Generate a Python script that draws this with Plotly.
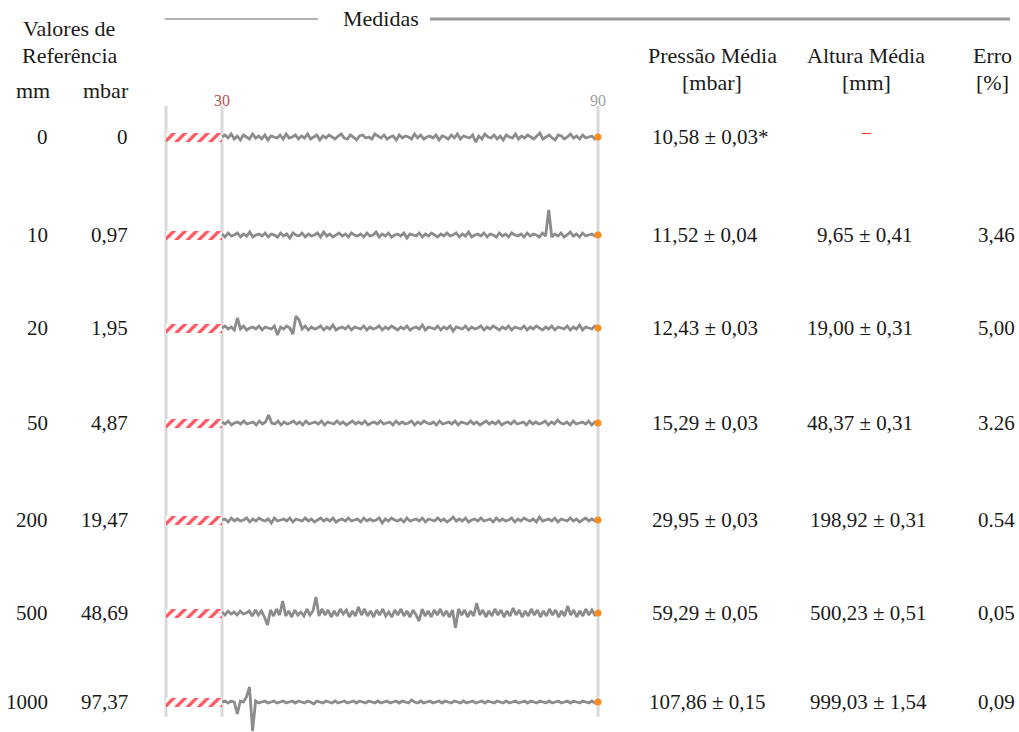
import numpy as np
import plotly.graph_objects as go

W, H = 1019, 732

# ---------------- data ----------------
ref_mm = ["0", "10", "20", "50", "200", "500", "1000"]
ref_mbar = ["0", "0,97", "1,95", "4,87", "19,47", "48,69", "97,37"]
pressao = ["10,58 ± 0,03*", "11,52 ± 0,04", "12,43 ± 0,03", "15,29 ± 0,03",
           "29,95 ± 0,03", "59,29 ± 0,05", "107,86 ± 0,15"]
altura = ["–", "9,65 ± 0,41", "19,00 ± 0,31", "48,37 ± 0,31",
          "198,92 ± 0,31", "500,23 ± 0,51", "999,03 ± 1,54"]
erro = ["", "3,46", "5,00", "3.26", "0.54", "0,05", "0,09"]

T_START, T_END = 30, 90  # measurement window (s)

# signal deviations around each mean (relative units)
sig_0 = [0,2,-1,3,-2,1,-3,2,0,-2,3,-1,1,-2,2,-3,1,0,-1,2,-2,3,-1,0,2,-2,1,-1,3,-2,0,2,-3,1,-1,2,0,-2,1,3,-1,-2,2,0,-3,1,2,-1,0,-2,3,1,-1,2,-2,0,1,-3,2,-1,1,0,-2,3,-1,2,-2,0,1,-1,2,-3,1,0,-2,2,-1,3,-2,1,0,-1,2,-5,1,-2,3,0,-1,2,-2,1,-3,2,0,-1,3,-2,1,-1,2,0,-2,1,4,-2,0,2,-1,-3,2,1,-2,0,3,-1,1,-2,2,-1,0,1,-2,0]
sig_10 = [1,-2,2,-1,0,2,-2,1,-1,3,-2,0,1,-1,2,-2,1,0,-2,2,-1,1,-3,2,0,-1,2,-2,1,-1,0,2,-2,3,-1,1,-2,0,2,-1,1,-2,2,0,-1,1,-2,2,-1,0,3,-2,1,-1,2,-2,0,1,-1,2,-3,1,0,-1,2,-2,1,-1,2,0,-2,1,-1,2,-1,0,2,-2,1,-1,3,-2,0,1,-1,2,-2,1,0,-2,2,-1,1,-2,2,0,-1,1,-2,2,-1,1,0,-2,2,-1,25,-2,1,-1,2,-2,0,3,-1,1,-2,2,-1,0,1,-1,0]
sig_20 = [0,2,-1,1,-2,10,-1,2,-2,0,1,-1,2,-2,1,0,-1,2,-7,1,-1,2,0,-6,12,8,-1,2,-2,1,-1,0,2,-2,1,-1,3,-2,0,1,-1,2,-2,1,0,-1,2,-2,1,-1,0,2,-2,1,-1,2,0,-2,1,-1,2,-2,0,1,-1,3,-2,1,0,-1,2,-2,1,-1,2,-3,1,0,-1,2,-2,1,-1,0,2,-2,1,-1,2,0,-2,1,-1,2,-2,1,0,-1,2,-2,1,-1,2,0,-2,1,-1,2,-2,1,0,-1,2,-2,1,-1,3,-2,1,0,-1,2,0]
sig_50 = [1,-1,2,-2,0,1,-1,2,-1,0,1,-2,2,-1,1,8,0,-1,2,-2,1,-1,0,2,-1,1,-2,2,-1,0,1,-1,2,-2,1,0,-1,2,-1,1,-2,0,2,-1,1,-1,2,-2,0,1,-1,2,-1,0,1,-2,2,-1,1,-1,0,2,-2,1,-1,2,0,-1,1,-2,2,-1,0,1,-1,2,-2,1,0,-1,2,-1,1,-2,0,2,-1,1,-1,2,-2,0,1,-1,2,-1,0,1,-2,2,-1,1,-1,0,2,-2,1,-1,3,0,-1,1,-2,2,-1,0,1,-1,2,-2,1,0]
sig_200 = [0,1,-2,2,-1,1,-1,0,2,-2,1,-1,2,0,-1,1,-3,2,-1,0,1,-1,2,-2,1,0,-1,2,-1,1,-2,0,2,-1,1,-1,2,-2,0,1,-1,2,-1,0,1,-2,2,-1,1,-1,0,2,-3,1,-1,2,0,-1,1,-2,2,-1,0,1,-1,2,-2,1,0,-1,2,-1,1,-2,0,3,-1,1,-1,2,-2,0,1,-1,2,-1,0,1,-2,2,-1,1,-1,0,2,-2,1,-1,2,0,-1,1,-2,3,-1,0,1,-1,2,-2,1,0,-1,2,-1,1,-2,0,2,-1,1,-1,0]
sig_500 = [1,-2,2,-1,1,-2,2,-1,0,2,-3,3,-2,2,-4,-12,3,-3,4,-2,12,-3,2,-4,3,-2,1,-3,4,-2,2,16,-3,4,-2,3,-4,2,-3,4,-1,3,-4,2,-3,6,-2,4,-3,2,-4,3,-2,4,-3,1,-4,3,-2,4,-3,2,-4,3,-2,-8,4,-3,2,-4,3,-2,4,-3,2,-4,3,-15,4,-2,3,-4,2,-3,10,-2,3,-4,2,-3,4,-2,3,-4,2,-3,5,-2,3,-4,2,-3,4,-2,3,-4,2,-3,4,-2,3,-4,2,-3,7,-2,3,-4,2,-3,4,-2,3,-2,0]
sig_1000 = [0,1,-1,1,0,-12,1,0,5,15,-29,1,-1,0,1,-1,0,1,-1,0,1,-1,0,1,-1,1,0,-1,1,0,-2,1,0,-1,1,0,-1,1,-1,0,1,-1,0,1,-1,1,0,-1,1,0,-1,1,-1,0,1,-1,0,1,-1,1,0,-1,2,0,-1,1,-1,0,1,-1,0,1,-1,1,0,-1,1,0,-1,1,-1,0,1,-1,0,1,-1,1,0,-1,1,0,-1,1,-1,0,1,-1,0,1,-1,1,0,-1,1,0,-1,1,-1,0,1,-1,0,1,-1,1,0,-1,1,0,-1,1,-1,0]
signals = [sig_0, sig_10, sig_20, sig_50, sig_200, sig_500, sig_1000]

# ---------------- layout helpers ----------------
def px(x):
    return x / W

def py(y):
    return 1 - y / H

row_y = [137, 235, 328, 423, 520, 613, 702]
HALF = 30
X_LEFT_PX, X30_PX, X90_PX = 166, 222, 598
frac = (X30_PX - X_LEFT_PX) / (X90_PX - X_LEFT_PX)
XMIN = (T_START - frac * T_END) / (1 - frac)

FONT = "Liberation Serif"
TXT = "#1a1a1a"
GRID = "#d9d9d9"
TRACE = "#8c8c8c"
HATCH = "#ff5560"
ORANGE = "#ff8c1a"

fig = go.Figure()
layout_axes = {}
for k, (sig, yc) in enumerate(zip(signals, row_y)):
    yname = "y" if k == 0 else f"y{k+1}"
    lname = "yaxis" if k == 0 else f"yaxis{k+1}"
    layout_axes[lname] = dict(
        domain=[py(yc + HALF), py(yc - HALF)], range=[-HALF, HALF],
        visible=False, fixedrange=True, anchor="x",
    )
    t = np.linspace(T_START, T_END, len(sig))
    # hatched (discarded) interval
    fig.add_trace(go.Bar(
        x=[T_START - XMIN], base=[XMIN], y=[0], orientation="h", width=9,
        xaxis="x", yaxis=yname,
        marker=dict(color="white", line=dict(width=0),
                    pattern=dict(shape="/", fgcolor=HATCH, bgcolor="white",
                                 size=8, solidity=0.4, fillmode="replace")),
        hoverinfo="skip",
    ))
    fig.add_trace(go.Scatter(
        x=t, y=sig, mode="lines", xaxis="x", yaxis=yname,
        line=dict(color=TRACE, width=2.8), cliponaxis=False, hoverinfo="skip",
    ))
    fig.add_trace(go.Scatter(
        x=[T_END], y=[sig[-1]], mode="markers", xaxis="x", yaxis=yname,
        marker=dict(color=ORANGE, size=7), cliponaxis=False, hoverinfo="skip",
    ))

shapes = []
for xpix in [X_LEFT_PX, X30_PX, X90_PX]:
    shapes.append(dict(type="line", xref="paper", yref="paper", x0=px(xpix), x1=px(xpix),
                       y0=py(717), y1=py(106),
                       line=dict(color=GRID, width=3), layer="below"))
# header lines around "Medidas"
shapes.append(dict(type="line", xref="paper", yref="paper", x0=px(165), x1=px(318),
                   y0=py(19), y1=py(19), line=dict(color="#9a9a9a", width=1.5)))
shapes.append(dict(type="line", xref="paper", yref="paper", x0=px(430), x1=px(1010),
                   y0=py(19), y1=py(19), line=dict(color="#9a9a9a", width=3)))

ann = []
def text(s, x, y, anchor="center", size=21, color=TXT, xref="paper"):
    ann.append(dict(text=s, x=(px(x) if xref == "paper" else x), y=py(y),
                    xref=xref, yref="paper", xanchor=anchor, yanchor="middle",
                    showarrow=False, font=dict(family=FONT, size=size, color=color)))

HS = 22
text("Medidas", 381, 19, size=HS)
text("Valores de", 69, 28, size=HS)
text("Referência", 69, 55, size=HS)
text("mm", 33, 90, size=HS)
text("mbar", 106, 90, size=HS)
text("Pressão Média", 712, 55, size=HS)
text("[mbar]", 712, 83, size=HS)
text("Altura Média", 866, 55, size=HS)
text("[mm]", 866, 83, size=HS)
text("Erro", 992, 55, size=HS)
text("[%]", 992, 83, size=HS)
text(str(T_START), T_START, 100, size=16, color="#c0504d", xref="x")
text(str(T_END), T_END, 100, size=16, color="#a0a0a0", xref="x")

alt_left = [None, 815, 805, 805, 808, 808, 808]
for k, yc in enumerate(row_y):
    text(ref_mm[k], 50, yc, anchor="right")
    text(ref_mbar[k], 130, yc, anchor="right")
    text(pressao[k], 650 if k < 6 else 647, yc, anchor="left")
    if alt_left[k] is None:
        text(altura[k], 866, yc - 5, color="#ff2a2a", size=18)
    else:
        text(altura[k], alt_left[k], yc, anchor="left")
    if erro[k]:
        text(erro[k], 1017, yc, anchor="right")

fig.update_layout(
    width=W, height=H, margin=dict(l=0, r=0, t=0, b=0),
    paper_bgcolor="white", plot_bgcolor="white", showlegend=False,
    xaxis=dict(domain=[px(X_LEFT_PX), px(X90_PX)], range=[XMIN, T_END],
               visible=False, fixedrange=True),
    shapes=shapes, annotations=ann, bargap=0,
    **layout_axes,
)
fig.write_html("out.html", config={"displayModeBar": False},
               post_script="document.body.style.margin='0';document.body.style.overflow='hidden';")
